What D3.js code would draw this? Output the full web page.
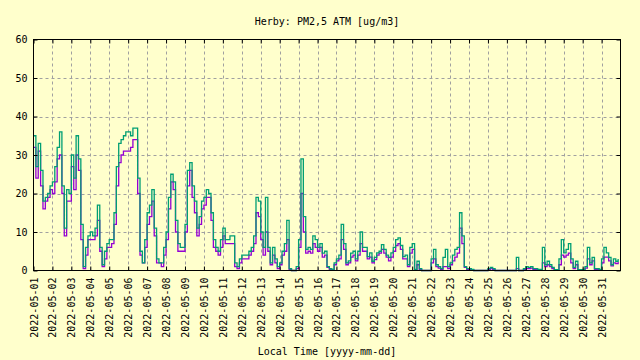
<!DOCTYPE html>
<html>
<head>
<meta charset="utf-8">
<script src="https://cdn.jsdelivr.net/npm/d3@7"></script>
<style>
  html, body { margin: 0; padding: 0; background: #ffffcc; }
  svg { display: block; }
  text { font-family: "DejaVu Sans Mono", "Liberation Mono", monospace; font-size: 10px; fill: #000; }
</style>
</head>
<body>
<svg id="chart" width="640" height="360"></svg>
<script>
// ---- data (3-hourly readings, starting 2022-05-01 00:00) ----
const title = "Herby: PM2,5 ATM [ug/m3]";
const xLabel = "Local Time [yyyy-mm-dd]";
const startDate = "2022-05-01";
const stepHours = 3;
const yTicks = [0, 10, 20, 30, 40, 50, 60];
const dayTicks = ["2022-05-01","2022-05-02","2022-05-03","2022-05-04","2022-05-05","2022-05-06","2022-05-07","2022-05-08","2022-05-09","2022-05-10","2022-05-11","2022-05-12","2022-05-13","2022-05-14","2022-05-15","2022-05-16","2022-05-17","2022-05-18","2022-05-19","2022-05-20","2022-05-21","2022-05-22","2022-05-23","2022-05-24","2022-05-25","2022-05-26","2022-05-27","2022-05-28","2022-05-29","2022-05-30","2022-05-31"];

const sensorA = [ // green
  35, 27, 33, 26, 18, 19, 20, 22,
  23, 27, 32, 36, 22, 11, 21, 20,
  30, 24, 35, 29, 12, 1, 6, 9,
  10, 9, 11, 17, 6, 1.5, 5, 7,
  8, 8, 15, 27, 33, 34, 35, 36,
  36, 35, 37, 37, 24, 5, 2, 8,
  15, 17, 21, 11, 3, 2, 2, 6,
  10, 19, 25, 23, 13, 7, 6, 6,
  12, 26, 28, 22, 18, 11, 14, 18,
  19, 21, 20, 15, 8, 6, 5, 8,
  11, 8, 8, 9, 9, 2, 1, 3,
  4, 4, 4, 5, 6, 9, 19, 18,
  10, 6, 19, 6, 2, 6, 3, 1,
  2, 5, 7, 13, 0.5, 0, 0, 1,
  8, 29, 14, 5.5, 6, 5.5, 9, 8,
  6, 7, 4.5, 5, 1, 0.5, 0.3, 2,
  3, 4, 12, 7, 2, 2.5, 4.5, 5,
  3, 5, 10, 6, 6, 3.6, 4.6, 2.4,
  3.4, 4.6, 5, 6.7, 5.5, 4, 3.4, 4.6,
  6, 8, 8.5, 6.5, 3.6, 4, 1.5, 6,
  7, 0.3, 2.4, 0.5, 0, 0, 0, 0,
  3, 5.5, 1.5, 1, 0.5, 3.4, 5.5, 1,
  2, 4, 5.5, 6, 15, 9, 1, 0.5,
  0.5, 0.3, 0, 0, 0, 0, 0, 0,
  0.5, 0.8, 0.5, 0, 0, 0, 0, 0,
  0, 0, 0, 0, 3.4, 0, 0, 0.5,
  1, 0.8, 1, 0.5, 0.5, 0.3, 0.3, 6,
  1.5, 2.4, 1.5, 0.8, 0.2, 0.2, 3, 8,
  4.6, 5.5, 7, 3, 0.8, 2.4, 0.2, 0.2,
  0.3, 1, 6, 2, 3.4, 0.5, 0.5, 0.3,
  3, 6, 4.6, 3.4, 1.5, 3, 2.4, 3
];

const sensorB = [ // violet
  32, 24, 31, 22, 16, 18, 19, 21,
  20, 23, 29, 30, 20, 9, 18, 18,
  27, 21, 30, 26, 8, 0.5, 4, 8,
  8, 8, 9, 13, 5, 1, 3, 6,
  6, 7, 12, 22, 28, 30, 31, 31,
  31, 32, 34, 34, 20, 4, 2, 6,
  12, 14, 18, 9, 2, 2, 1, 4,
  8, 16, 23, 21, 10, 5, 5, 5,
  10, 22, 26, 19, 15, 9, 12, 16,
  17, 19, 19, 13, 6, 5, 4, 6,
  9, 7, 7, 7, 7, 1, 0.5, 2,
  3, 3, 3, 4, 5, 7, 15, 14,
  8, 4, 10, 5, 1.5, 4, 2, 0.5,
  1.5, 4, 5, 8, 0.3, 0, 0, 0.5,
  6, 20, 10, 4.5, 5, 4.5, 7, 6,
  5, 6, 3.5, 4, 0.8, 0.3, 0.2, 1.5,
  2.5, 3, 8, 5.5, 1.5, 2, 3.5, 4,
  2.5, 4, 7, 5, 5, 3, 3.5, 2,
  2.8, 4, 4.5, 5.5, 4.5, 3.5, 2.5, 3.5,
  5, 6.5, 7, 5.5, 3, 3, 1, 4.5,
  5.5, 0.2, 1.5, 0.3, 0, 0, 0, 0,
  2, 3, 1, 0.6, 0.3, 1, 1, 0.5,
  1.5, 2.5, 3.5, 4.5, 11, 7, 0.8, 0.3,
  0.3, 0.2, 0, 0, 0, 0, 0, 0,
  0.3, 0.5, 0.3, 0, 0, 0, 0, 0,
  0, 0, 0, 0, 0.5, 0, 0, 0.3,
  0.5, 0.5, 0.6, 0.3, 0.3, 0.2, 0.2, 2,
  1, 1.5, 1, 0.5, 0.1, 0.1, 1.5, 4,
  3.5, 4, 4.5, 2, 0.5, 1.5, 0.1, 0.1,
  0.2, 0.6, 3, 1.5, 2.5, 0.3, 0.3, 0.2,
  2, 3.5, 3.5, 2.5, 1.2, 2, 1.8, 2.2
];

// ---- chart ----
const svg = d3.select("#chart");
const W = 640, H = 360;
const L = 33.5, R = 620.5, T = 39.5, B = 270.5;
svg.append("rect").attr("width", W).attr("height", H).attr("fill", "#ffffcc");

const parse = d3.utcParse("%Y-%m-%d");
const t0 = parse(startDate);
const x = d3.scaleUtc().domain([t0, d3.utcDay.offset(t0, 31)]).range([L, R]);
const y = d3.scaleLinear().domain([0, 60]).range([B, T]);
const tickDates = dayTicks.map(parse);
const timeAt = i => d3.utcHour.offset(t0, i * stepHours);

// grid
const grid = svg.append("g").attr("stroke", "#a0a0a0").attr("stroke-width", 1).attr("stroke-dasharray", "3,3");
grid.selectAll("line.v").data(tickDates.slice(1)).join("line")
  .attr("x1", d => Math.round(x(d)) + 0.5).attr("x2", d => Math.round(x(d)) + 0.5)
  .attr("y1", T).attr("y2", B);
grid.selectAll("line.h").data(yTicks.slice(1, -1)).join("line")
  .attr("y1", d => Math.round(y(d)) + 0.5).attr("y2", d => Math.round(y(d)) + 0.5)
  .attr("x1", L).attr("x2", R);

// data lines
const line = d3.line().curve(d3.curveStepAfter)
  .x((d, i) => x(timeAt(i))).y(d => y(d));
const plot = svg.append("g");
plot.append("path").datum(sensorB).attr("d", line)
  .attr("fill", "none").attr("stroke", "#9400d3").attr("stroke-width", 1.3);
plot.append("path").datum(sensorA).attr("d", line)
  .attr("fill", "none").attr("stroke", "#009e73").attr("stroke-width", 1.3);

// axes (inward ticks)
const fmt = d3.utcFormat("%Y-%m-%d");
const gx = svg.append("g").attr("transform", `translate(0,${B})`)
  .call(d3.axisBottom(x).tickValues(tickDates).tickFormat(fmt).tickSize(-4).tickSizeOuter(0));
gx.selectAll("text").attr("transform", "rotate(-90)")
  .attr("x", -7).attr("y", 0).attr("dy", "0.35em").style("text-anchor", "end");
svg.append("g").attr("transform", `translate(0,${T})`)
  .call(d3.axisTop(x).tickValues(tickDates).tickFormat("").tickSize(-4).tickSizeOuter(0));
svg.append("g").attr("transform", `translate(${L},0)`)
  .call(d3.axisLeft(y).tickValues(yTicks).tickSize(-4).tickSizeOuter(0).tickPadding(6));
svg.append("g").attr("transform", `translate(${R},0)`)
  .call(d3.axisRight(y).tickValues(yTicks).tickFormat("").tickSize(-4).tickSizeOuter(0));
svg.selectAll(".domain").remove();
svg.selectAll(".tick line").attr("stroke", "#000");
svg.selectAll(".tick text").style("font-family", "DejaVu Sans Mono").style("font-size", "10px").attr("fill", "#000");

// border
svg.append("rect").attr("x", L).attr("y", T).attr("width", R - L).attr("height", B - T)
  .attr("fill", "none").attr("stroke", "#000").attr("stroke-width", 1);

// titles
svg.append("text").attr("x", (L + R) / 2).attr("y", 25).attr("text-anchor", "middle").text(title);
svg.append("text").attr("x", (L + R) / 2).attr("y", 355).attr("text-anchor", "middle").text(xLabel);
</script>
</body>
</html>
